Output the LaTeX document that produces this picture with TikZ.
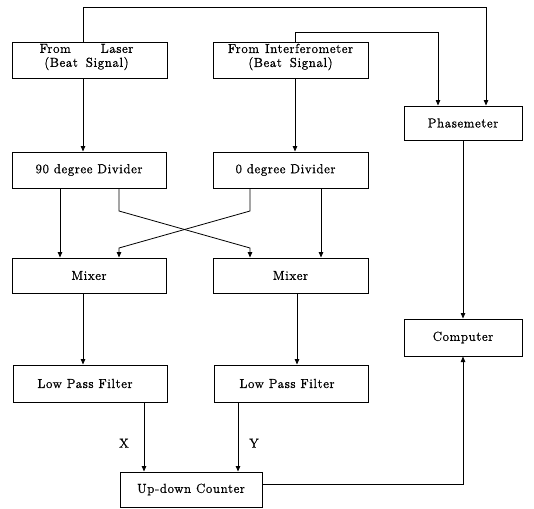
\documentclass[tikz,border=0pt]{standalone}
\usepackage{fontspec}
\setmainfont{Latin Modern Roman}[LetterSpace=5,FakeBold=1.2]
\usetikzlibrary{arrows.meta}
\begin{document}
\begin{tikzpicture}[x=1pt,y=-1pt,
  box/.style={draw, line width=1pt, inner sep=0pt},
  conn/.style={line width=0.8pt, -{Triangle[length=5.5pt,width=4.5pt]}},
  lbl/.style={inner sep=0pt},
  font=\fontsize{13}{14}\selectfont]
\useasboundingbox (0,0) rectangle (534,508);
% boxes
\node[box, minimum width=155pt, minimum height=36pt] (laser) at (89.5,61) {};
\node[lbl, align=center] (lasert) at ([xshift=-3pt,yshift=4pt]laser.center) {From\hspace{30pt}Laser\\(Beat\hspace{8pt}Signal)};
\node[box, minimum width=155pt, minimum height=36pt] (interf) at (290.5,61) {};
\node[lbl, align=center] (interft) at ([yshift=4pt]interf.center) {From\hspace{6pt}Interferometer\\(Beat\hspace{8pt}Signal)};
\node[box, minimum width=118pt, minimum height=34pt] (phase) at (463,123) {Phasemeter};
\node[box, minimum width=154pt, minimum height=36pt] (div90) at (89,170) {90 degree Divider};
\node[box, minimum width=155pt, minimum height=36pt] (div0) at (290.5,170) {\hspace*{-10pt}0 degree Divider};
\node[box, minimum width=154pt, minimum height=35pt] (mix1) at (89,275.5) {Mixer};
\node[box, minimum width=155pt, minimum height=35pt] (mix2) at (290.5,275.5) {Mixer};
\node[box, minimum width=154pt, minimum height=37pt] (lpf1) at (90,383.5) {\hspace*{-10pt}Low Pass Filter};
\node[box, minimum width=154pt, minimum height=37pt] (lpf2) at (291,383.5) {\hspace*{-8pt}Low Pass Filter};
\node[box, minimum width=118pt, minimum height=37pt] (comp) at (463,337.5) {Computer};
\node[box, minimum width=142pt, minimum height=35pt] (cnt) at (191,489.5) {Up-down Counter};
% guide coordinates
\coordinate (xl1) at (83,0);
\coordinate (xi1) at (295,0);
\coordinate (xp1) at (438,0);
\coordinate (xp2) at (486,0);
\coordinate (xc) at (463,0);
\coordinate (xd1) at (60,0);
\coordinate (xd2) at (119,0);
\coordinate (xd3) at (250,0);
\coordinate (xd4) at (321,0);
\coordinate (xm2) at (297,0);
\coordinate (xf1) at (144,0);
\coordinate (xf2) at (238,0);
\coordinate (ytop) at (0,7);
\coordinate (yint) at (0,32);
\coordinate (yd1) at (0,211);
\coordinate (yd2) at (0,248);
\coordinate (ycnt) at (0,484);
% connectors
\draw[conn] (laser.south -| xl1) -- (div90.north -| xl1);
\draw[conn] (interf.south -| xi1) -- (div0.north -| xi1);
\draw[conn] (laser.north -| xl1) |- (ytop -| xp2) -- (phase.north -| xp2);
\draw[conn] (interf.north -| xi1) |- (yint -| xp1) -- (phase.north -| xp1);
\draw[conn] (div90.south -| xd1) -- (mix1.north -| xd1);
\draw[conn] (div90.south -| xd2) -- (yd1 -| xd2) -- (yd2 -| xd3) -- (mix2.north -| xd3);
\draw[conn] (div0.south -| xd3) -- (yd1 -| xd3) -- (yd2 -| xd2) -- (mix1.north -| xd2);
\draw[conn] (div0.south -| xd4) -- (mix2.north -| xd4);
\draw[conn] (mix1.south -| xl1) -- (lpf1.north -| xl1);
\draw[conn] (mix2.south -| xm2) -- (lpf2.north -| xm2);
\draw[conn] (lpf1.south -| xf1) -- node[lbl, pos=0.59, xshift=-20pt] (lx) {X} (cnt.north -| xf1);
\draw[conn] (lpf2.south -| xf2) -- node[lbl, pos=0.59, xshift=16pt] (ly) {Y} (cnt.north -| xf2);
\draw[conn] (phase.south -| xc) -- (comp.north -| xc);
\draw[conn] (cnt.east |- ycnt) -| (comp.south -| xc);
\end{tikzpicture}
\end{document}
